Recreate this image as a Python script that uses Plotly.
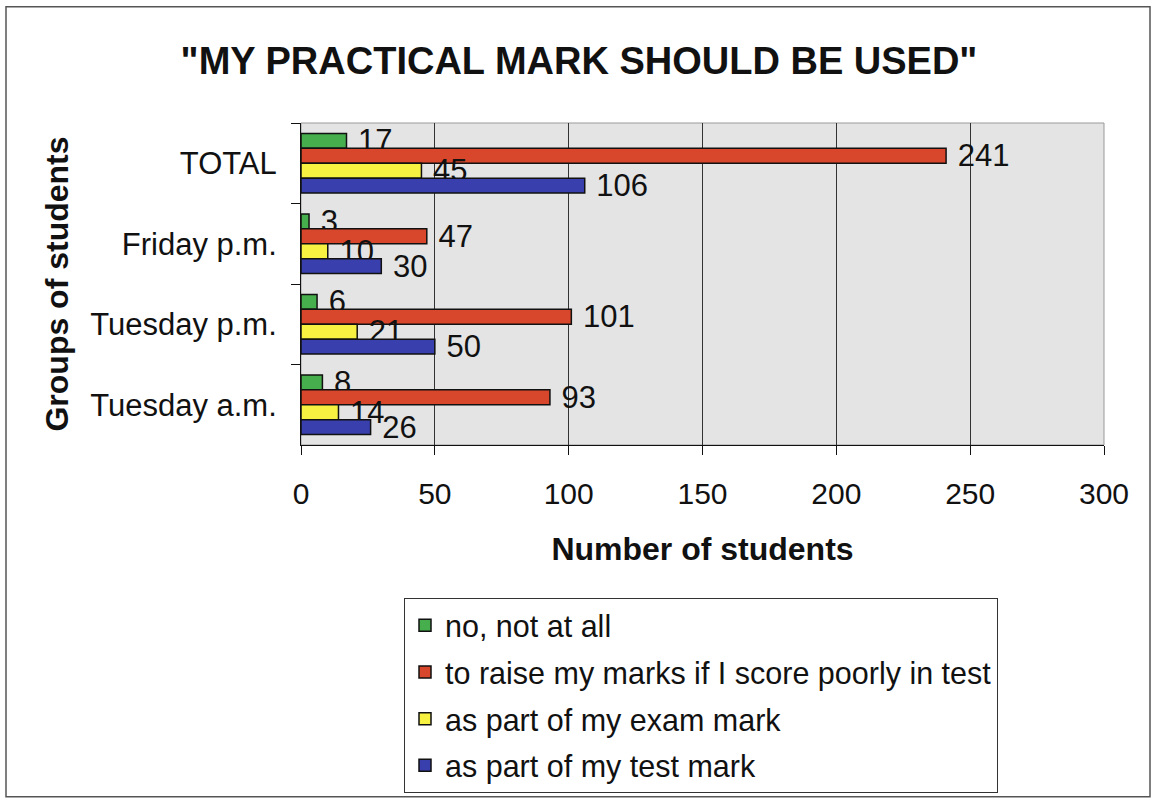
import plotly.graph_objects as go

# Student groups (top to bottom) and the four response options
groups = ["TOTAL", "Friday p.m.", "Tuesday p.m.", "Tuesday a.m."]
series_names = [
    "no, not at all",
    "to raise my marks if I score poorly in test",
    "as part of my exam mark",
    "as part of my test mark",
]
no_not_at_all = [17, 3, 6, 8]
raise_marks = [241, 47, 101, 93]
exam_mark = [45, 10, 21, 14]
test_mark = [106, 30, 50, 26]
x_ticks = [0, 50, 100, 150, 200, 250, 300]

series_values = [no_not_at_all, raise_marks, exam_mark, test_mark]
colors = ["#46ae4c", "#d8472b", "#f7f242", "#3a3fae"]

FONT = "Liberation Sans, Arial, sans-serif"

W, H = 1155, 805
L, R, T, B = 301, 51, 123, 358
pw, ph = W - L - R, H - T - B


def px_to_paper_x(px):
    return (px - L) / pw


def px_to_paper_y(py):
    return (H - B - py) / ph


fig = go.Figure()
for i, (name, vals, col) in enumerate(zip(series_names, series_values, colors)):
    fig.add_trace(go.Bar(
        y=groups,
        x=vals,
        name=name,
        orientation="h",
        marker=dict(color=col, line=dict(color="#111111", width=1.5)),
        text=["\u00a0" + str(v) for v in vals],
        textposition="outside",
        textfont=dict(family=FONT, size=31, color="#111111"),
        constraintext="none",
        cliponaxis=False,
        legendgroup=f"g{i}",
    ))

fig.update_layout(
    width=W,
    height=H,
    margin=dict(l=L, r=R, t=T, b=B, pad=0),
    paper_bgcolor="white",
    plot_bgcolor="#e4e4e4",
    barmode="group",
    bargap=0.26,
    bargroupgap=0,
    font=dict(family=FONT, color="#111111"),
    title=dict(
        text='"MY PRACTICAL MARK SHOULD BE USED"',
        font=dict(family=FONT, size=38, color="#111111", weight="bold"),
        x=px_to_paper_x(579), xref="paper", xanchor="center",
        y=1 - 61 / H, yref="container", yanchor="middle",
    ),
    xaxis=dict(
        range=[0, 300],
        tickvals=x_ticks,
        ticktext=[str(t) for t in x_ticks],
        tickfont=dict(family=FONT, size=30, color="#111111"),
        showgrid=True,
        gridcolor="#333333",
        gridwidth=1,
        showline=True,
        linecolor="#111111",
        linewidth=1,
        ticks="outside",
        ticklen=9,
        tickcolor="#111111",
        ticklabelstandoff=13,
        zeroline=False,
        mirror=False,
        title=dict(
            text="<b>Number of students</b>",
            font=dict(family=FONT, size=32, color="#111111"),
            standoff=28,
        ),
    ),
    yaxis=dict(
        autorange="reversed",
        categoryorder="array",
        categoryarray=groups,
        tickfont=dict(family=FONT, size=31, color="#111111"),
        showline=True,
        linecolor="#111111",
        linewidth=1,
        ticks="outside",
        tickson="boundaries",
        ticklen=9,
        tickcolor="#111111",
        ticklabelstandoff=17,
        showgrid=False,
        title=dict(
            text="<b>Groups of students</b>",
            font=dict(family=FONT, size=32, color="#111111"),
            standoff=11,
        ),
    ),
    legend=dict(
        x=px_to_paper_x(404),
        y=px_to_paper_y(601),
        xanchor="left",
        yanchor="top",
        bgcolor="white",
        bordercolor="#333333",
        borderwidth=1,
        font=dict(family=FONT, size=30.5, color="#111111"),
        traceorder="grouped",
        tracegroupgap=4,
        itemwidth=30,
    ),
    shapes=[
        # outer chart frame
        dict(type="rect", xref="paper", yref="paper",
             x0=px_to_paper_x(6), x1=px_to_paper_x(1150),
             y0=px_to_paper_y(801), y1=px_to_paper_y(6),
             line=dict(color="#555555", width=1.5), fillcolor="rgba(0,0,0,0)",
             layer="below"),
        # light border on top and right edges of the plotting area
        dict(type="rect", xref="paper", yref="paper",
             x0=0, x1=1, y0=0, y1=1,
             line=dict(color="#999999", width=1), fillcolor="rgba(0,0,0,0)",
             layer="below"),
    ],
)

fig.write_html("out.html")
